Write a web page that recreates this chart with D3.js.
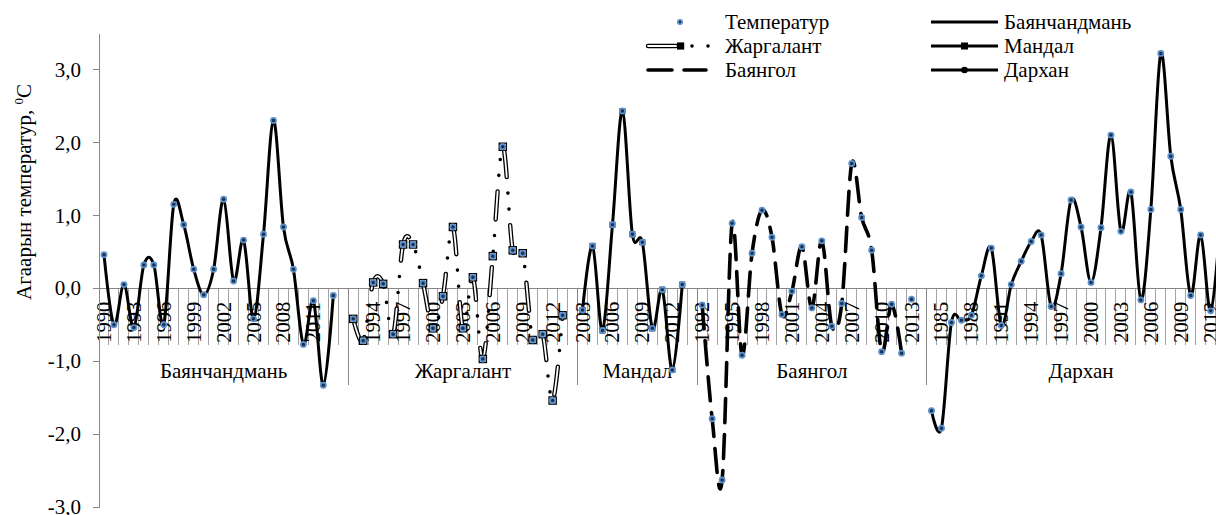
<!DOCTYPE html>
<html>
<head>
<meta charset="utf-8">
<script src="https://cdn.jsdelivr.net/npm/d3@7"></script>
<style>
  html, body { margin: 0; padding: 0; background: #fff; overflow: hidden; }
  svg { display: block; }
  svg text { font-family: "Liberation Serif", "Times New Roman", "DejaVu Serif", serif; }
</style>
</head>
<body>
<svg id="chart" width="1216" height="515"></svg>
<script>
// Annual air temperature anomalies by station (°C)
const stationNames = ["Баянчандмань", "Жаргалант", "Мандал", "Баянгол", "Дархан"];

const yearsBayanchandman = d3.range(1990, 2014);
const tempBayanchandman = [0.46, -0.50, 0.05, -0.54, 0.32, 0.32, -0.50, 1.15, 0.87, 0.26,
  -0.09, 0.26, 1.22, 0.10, 0.66, -0.42, 0.74, 2.30, 0.84, 0.26, -0.77, -0.17, -1.33, -0.10];

const yearsJargalant = d3.range(1992, 2014);
const tempJargalant = [-0.42, -0.72, 0.08, 0.06, -0.63, 0.60, 0.60, 0.07, -0.55, -0.11,
  0.84, -0.55, 0.15, -0.97, 0.44, 1.94, 0.52, 0.48, -0.71, -0.63, -1.54, -0.37];

const yearsMandal = d3.range(2003, 2014);
const tempMandal = [-0.30, 0.58, -0.58, 0.87, 2.43, 0.74, 0.63, -0.55, -0.02, -1.12, 0.05];

const yearsBayangol = d3.range(1992, 2014);
const tempBayangol = [-0.23, -1.79, -2.63, 0.89, -0.92, 0.48, 1.07, 0.70, -0.36, -0.04,
  0.57, -0.27, 0.65, -0.52, -0.21, 1.71, 0.97, 0.52, -0.87, -0.22, -0.89, -0.15];
const bayangolLineLastYear = 2012;

const yearsDarkhan = d3.range(1984, 2014);
const tempDarkhan = [-1.68, -1.92, -0.47, -0.44, -0.37, 0.17, 0.55, -0.51, 0.05, 0.37,
  0.64, 0.73, -0.25, 0.20, 1.21, 0.84, 0.08, 0.83, 2.10, 0.78,
  1.32, -0.16, 1.08, 3.22, 1.81, 1.08, -0.10, 0.73, -0.31, 1.00];

const yTicks = [-3, -2, -1, 0, 1, 2, 3];
const yDomain = [-3, 3.5];
const yTitle = "Агаарын температур, ";
const tempLegendLabel = "Температур";
const labelEvery = 3;

// ---------------------------------------------------------------
const FONT = "Liberation Serif, Times New Roman, DejaVu Serif, serif";
const groups = [
  { name: stationNames[0], years: yearsBayanchandman, temps: tempBayanchandman, style: "solid" },
  { name: stationNames[1], years: yearsJargalant, temps: tempJargalant, style: "double" },
  { name: stationNames[2], years: yearsMandal, temps: tempMandal, style: "square" },
  { name: stationNames[3], years: yearsBayangol, temps: tempBayangol, style: "dash", lastLineYear: bayangolLineLastYear },
  { name: stationNames[4], years: yearsDarkhan, temps: tempDarkhan, style: "circle" }
];

// flat category list: each station block ends with an empty slot
const cats = [];
groups.forEach(g => {
  g.years.forEach(yr => cats.push({ group: g.name, label: String(yr), key: g.name + "|" + yr }));
  cats.push({ group: g.name, label: "", key: g.name + "|" });
});

const svg = d3.select("#chart").attr("font-family", FONT);
const plotLeft = 99, plotTop = 33, plotBottom = 507, slot = 9.97;

const x = d3.scaleBand()
  .domain(cats.map(c => c.key))
  .range([plotLeft, plotLeft + cats.length * slot])
  .paddingInner(0).paddingOuter(0);
const y = d3.scaleLinear().domain(yDomain).range([plotBottom, plotTop]);
const bw = x.bandwidth();
const cx = key => x(key) + bw / 2;
const y0 = y(0);

const axisGray = "#868686";
const tickGray = "#a3a3a3";
const FS = 21;

// ---- category axis (two levels) ----
const catAxis = svg.append("g").attr("font-family", FONT);
cats.forEach((c, i) => {
  const isGroupStart = i === 0 || cats[i - 1].group !== c.group;
  catAxis.append("line")
    .attr("x1", x(c.key)).attr("x2", x(c.key))
    .attr("y1", y0).attr("y2", y0 + (isGroupStart ? 97 : 57))
    .attr("stroke", isGroupStart ? axisGray : tickGray).attr("stroke-width", 1)
    .attr("shape-rendering", "crispEdges");
});
catAxis.append("line")
  .attr("x1", plotLeft).attr("x2", x.range()[1])
  .attr("y1", y0).attr("y2", y0)
  .attr("stroke", axisGray).attr("stroke-width", 1).attr("shape-rendering", "crispEdges");

cats.forEach((c, i) => {
  if (i % labelEvery !== 0 || c.label === "") return;
  const px = cx(c.key), py = y0 + 34;
  catAxis.append("text")
    .attr("transform", `translate(${px},${py}) rotate(-90)`)
    .attr("text-anchor", "middle")
    .attr("dominant-baseline", "central")
    .attr("font-family", FONT)
    .attr("font-size", 20.5)
    .attr("fill", "#000")
    .text(c.label);
});

groups.forEach(g => {
  const first = x(g.name + "|" + g.years[0]);
  const last = x(g.name + "|") + bw;
  catAxis.append("text")
    .attr("x", (first + last) / 2).attr("y", y0 + 90)
    .attr("text-anchor", "middle")
    .attr("font-family", FONT)
    .attr("font-size", FS).attr("fill", "#000")
    .text(g.name);
});

// ---- value axis ----
const fmt = d => (d < 0 ? "-" : "") + Math.abs(d).toFixed(1).replace(".", ",");
const yAxis = svg.append("g")
  .attr("transform", `translate(${plotLeft},0)`)
  .call(d3.axisLeft(y).tickValues(yTicks).tickFormat(fmt).tickSize(6).tickSizeOuter(0).tickPadding(12));
yAxis.attr("font-family", FONT).attr("font-size", FS);
yAxis.select(".domain").attr("stroke", axisGray).attr("shape-rendering", "crispEdges");
yAxis.selectAll(".tick line").attr("stroke", axisGray).attr("shape-rendering", "crispEdges");
yAxis.selectAll(".tick text").attr("font-size", FS).attr("fill", "#000").attr("font-family", FONT);

const title = svg.append("text")
  .attr("transform", `translate(31,192) rotate(-90)`)
  .attr("text-anchor", "middle")
  .attr("font-family", FONT)
  .attr("font-size", FS).attr("fill", "#000");
title.append("tspan").text(yTitle);
title.append("tspan").attr("font-size", 13).attr("dy", -8).text("0");
title.append("tspan").attr("dy", 8).text("C");

// ---- series ----
const line = d3.line().x(d => d.x).y(d => d.y).curve(d3.curveCardinal.tension(0));
const seriesG = svg.append("g");

function drawDouble(sel, d) {
  sel.append("path").attr("d", d).attr("fill", "none")
    .attr("stroke", "#000").attr("stroke-width", 4.4)
    .attr("stroke-dasharray", "28 48").attr("stroke-dashoffset", -2)
    .attr("stroke-linecap", "round");
  sel.append("path").attr("d", d).attr("fill", "none")
    .attr("stroke", "#fff").attr("stroke-width", 1.8)
    .attr("stroke-dasharray", "28 48").attr("stroke-dashoffset", -2)
    .attr("stroke-linecap", "round");
  sel.append("path").attr("d", d).attr("fill", "none")
    .attr("stroke", "#000").attr("stroke-width", 3.6)
    .attr("stroke-dasharray", "0 16 0 60").attr("stroke-dashoffset", -46)
    .attr("stroke-linecap", "round");
}

function drawDash(sel, d) {
  sel.append("path").attr("d", d).attr("fill", "none")
    .attr("stroke", "#000").attr("stroke-width", 3.6)
    .attr("stroke-dasharray", "24 12").attr("stroke-linecap", "round");
}

function drawSolid(sel, d) {
  sel.append("path").attr("d", d).attr("fill", "none")
    .attr("stroke", "#000").attr("stroke-width", 3)
    .attr("stroke-linejoin", "round");
}

const allPoints = [];
groups.forEach(g => {
  const pts = g.years.map((yr, i) => ({ x: cx(g.name + "|" + yr), y: y(g.temps[i]), year: yr, style: g.style }));
  pts.forEach(p => allPoints.push(p));
  const linePts = g.lastLineYear ? pts.filter(p => p.year <= g.lastLineYear) : pts;
  const d = line(linePts);
  const sg = seriesG.append("g");
  if (g.style === "double") drawDouble(sg, d);
  else if (g.style === "dash") drawDash(sg, d);
  else drawSolid(sg, d);

  if (g.style === "double") {
    sg.selectAll("rect").data(pts).join("rect")
      .attr("x", p => p.x - 3.6).attr("y", p => p.y - 3.6)
      .attr("width", 7.2).attr("height", 7.2)
      .attr("fill", "#fff").attr("stroke", "#000").attr("stroke-width", 1.3);
  } else if (g.style === "square") {
    sg.selectAll("rect").data(pts).join("rect")
      .attr("x", p => p.x - 3).attr("y", p => p.y - 3)
      .attr("width", 6).attr("height", 6).attr("fill", "#000");
  } else if (g.style === "circle") {
    sg.selectAll("circle").data(pts).join("circle")
      .attr("cx", p => p.x).attr("cy", p => p.y).attr("r", 2.8).attr("fill", "#000");
  }
});

// temperature markers
function tempMarker(sel, px, py, r) {
  sel.append("circle").attr("cx", px).attr("cy", py).attr("r", r)
    .attr("fill", "#1d2f4a").attr("stroke", "#5b92d0").attr("stroke-width", 1.7);
}
const markerG = svg.append("g");
allPoints.forEach(p => tempMarker(markerG, p.x, p.y, 2.6));

// ---- legend ----
const legend = svg.append("g").attr("font-size", FS).attr("font-family", FONT).attr("fill", "#000");
const rowY = [22, 46, 70];
const col1 = { x0: 646, x1: 710, tx: 725 };
const col2 = { x0: 931, x1: 998, tx: 1004 };

function legendText(px, py, txt) {
  legend.append("text").attr("x", px).attr("y", py + 7)
    .attr("font-family", FONT).attr("font-size", FS).text(txt);
}
// Температур
tempMarker(legend, 680, rowY[0], 2.2);
legendText(col1.tx, rowY[0], tempLegendLabel);
// Жаргалант
drawDouble(legend.append("g"), `M${col1.x0},${rowY[1]}H${col1.x1}`);
legend.append("rect").attr("x", 677).attr("y", rowY[1] - 3.6).attr("width", 7.2).attr("height", 7.2)
  .attr("fill", "#000");
legendText(col1.tx, rowY[1], stationNames[1]);
// Баянгол
drawDash(legend.append("g"), `M${col1.x0 + 2},${rowY[2]}H${col1.x1 - 4}`);
legendText(col1.tx, rowY[2], stationNames[3]);
// Баянчандмань
drawSolid(legend.append("g"), `M${col2.x0},${rowY[0]}H${col2.x1}`);
legendText(col2.tx, rowY[0], stationNames[0]);
// Мандал
drawSolid(legend.append("g"), `M${col2.x0},${rowY[1]}H${col2.x1}`);
legend.append("rect").attr("x", (col2.x0 + col2.x1) / 2 - 3.5).attr("y", rowY[1] - 3.5)
  .attr("width", 7).attr("height", 7).attr("fill", "#000");
legendText(col2.tx, rowY[1], stationNames[2]);
// Дархан
drawSolid(legend.append("g"), `M${col2.x0},${rowY[2]}H${col2.x1}`);
legend.append("circle").attr("cx", (col2.x0 + col2.x1) / 2).attr("cy", rowY[2]).attr("r", 3.3)
  .attr("fill", "#000");
legendText(col2.tx, rowY[2], stationNames[4]);
</script>
</body>
</html>
